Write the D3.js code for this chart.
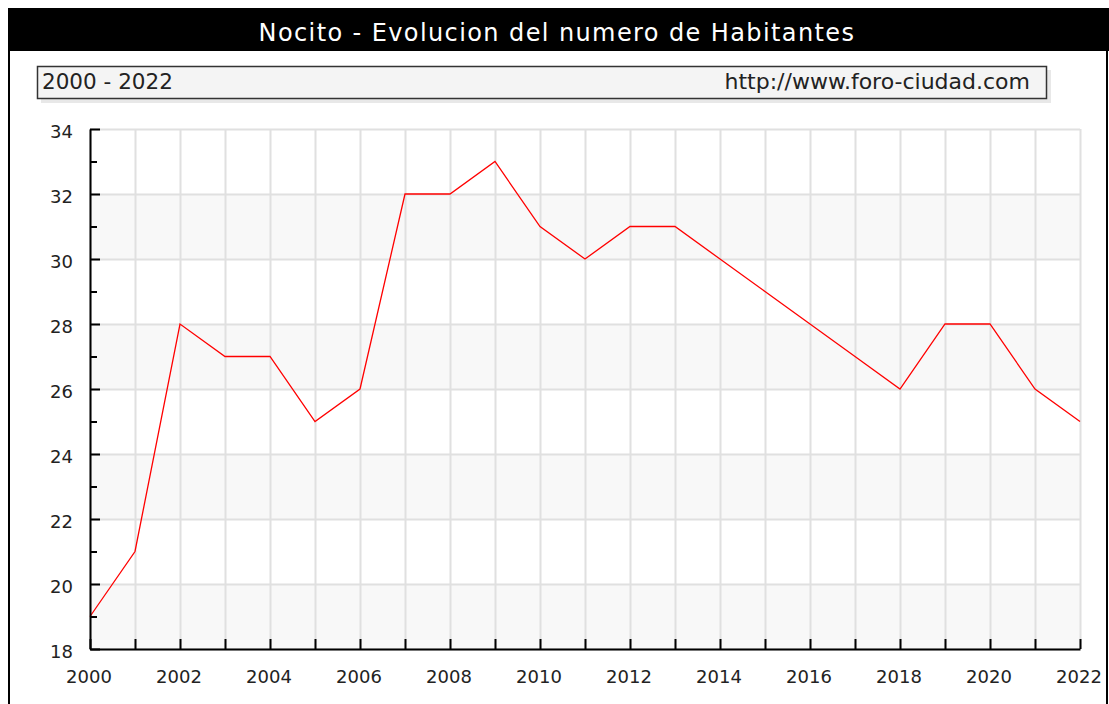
<!DOCTYPE html>
<html><head><meta charset="utf-8">
<script src="https://cdn.jsdelivr.net/npm/d3@7"></script>
<style>html,body{margin:0;padding:0;background:#fff;}svg{display:block;}</style>
</head><body>
<script>
const years = [2000,2001,2002,2003,2004,2005,2006,2007,2008,2009,2010,2011,2012,2013,2014,2015,2016,2017,2018,2019,2020,2021,2022];
const habitantes = [19,21,28,27,27,25,26,32,32,33,31,30,31,31,30,29,28,27,26,28,28,26,25];
const yTicks = [18,20,22,24,26,28,30,32,34];
const xLabelYears = [2000,2002,2004,2006,2008,2010,2012,2014,2016,2018,2020,2022];
const title = "Nocito - Evolucion del numero de Habitantes";
const rangeLabel = "2000 - 2022";
const siteLabel = "http://www.foro-ciudad.com";

const W = 1109, H = 704;
const svg = d3.select("body").append("svg").attr("width", W).attr("height", H);
const font = "DejaVu Sans, Verdana, sans-serif";

// frame
svg.append("rect").attr("x", 8).attr("y", 8).attr("width", W - 8).attr("height", 43).attr("fill", "#000");
svg.append("line").attr("x1", 9).attr("x2", 9).attr("y1", 50).attr("y2", H).attr("stroke", "#000").attr("stroke-width", 2);
svg.append("line").attr("x1", 1107).attr("x2", 1107).attr("y1", 50).attr("y2", H).attr("stroke", "#000").attr("stroke-width", 2);
svg.append("text").attr("x", 557).attr("y", 41).attr("text-anchor", "middle").attr("fill", "#fff")
  .attr("font-family", font).attr("font-size", 24).attr("letter-spacing", 1.4).text(title);

// subtitle box
svg.append("rect").attr("x", 41).attr("y", 70).attr("width", 1010).attr("height", 33).attr("fill", "#e8e8e8");
svg.append("rect").attr("x", 37.5).attr("y", 66.5).attr("width", 1009).attr("height", 32).attr("fill", "#f4f4f4").attr("stroke", "#333").attr("stroke-width", 1.5);
svg.append("text").attr("x", 42).attr("y", 89).attr("fill", "#222").attr("font-family", font).attr("font-size", 21.5).text(rangeLabel);
svg.append("text").attr("x", 1030).attr("y", 89).attr("text-anchor", "end").attr("fill", "#222").attr("font-family", font).attr("font-size", 22).text(siteLabel);

// scales
const x = d3.scaleLinear().domain([2000, 2022]).range([90, 1080]);
const y = d3.scaleLinear().domain([18, 34]).range([649, 129]);

// bands
const g = svg.append("g");
for (let i = 0; i < yTicks.length - 1; i++) {
  if (i % 2 === 0) {
    g.append("rect").attr("x", x(2000)).attr("width", x(2022) - x(2000))
      .attr("y", y(yTicks[i + 1])).attr("height", y(yTicks[i]) - y(yTicks[i + 1])).attr("fill", "#f8f8f8");
  }
}
// grid
g.append("g").attr("transform", `translate(0,${y(18)})`)
  .call(d3.axisBottom(x).tickValues(years).tickSize(-(y(18) - y(34))).tickFormat(""))
  .call(a => a.select(".domain").remove())
  .call(a => a.selectAll("line").attr("stroke", "#e0e0e0").attr("stroke-width", 2));
g.append("g").attr("transform", `translate(${x(2000)},0)`)
  .call(d3.axisLeft(y).tickValues(yTicks).tickSize(-(x(2022) - x(2000))).tickFormat(""))
  .call(a => a.select(".domain").remove())
  .call(a => a.selectAll("line").attr("stroke", "#e0e0e0").attr("stroke-width", 2));

// line
svg.append("path").datum(years.map((yr, i) => [yr, habitantes[i]]))
  .attr("fill", "none").attr("stroke", "#ff0000").attr("stroke-width", 1.3)
  .attr("d", d3.line().x(d => x(d[0])).y(d => y(d[1])));

// axes
const minorY = d3.range(19, 34, 2);
svg.append("g").attr("transform", `translate(${x(2000)},0)`)
  .call(d3.axisRight(y).tickValues(minorY).tickSize(7).tickFormat(""))
  .call(a => a.select(".domain").remove())
  .call(a => a.selectAll("line").attr("stroke", "#000").attr("stroke-width", 2));
const ya = svg.append("g").attr("transform", `translate(${x(2000)},0)`)
  .call(d3.axisRight(y).tickValues(yTicks).tickSize(10).tickSizeOuter(0).tickFormat(d3.format("d")));
ya.select(".domain").attr("stroke", "#000").attr("stroke-width", 2);
ya.selectAll("line").attr("stroke", "#000").attr("stroke-width", 2);
ya.selectAll("text").attr("x", -17).attr("text-anchor", "end").attr("dy", "0.45em")
  .attr("font-family", font).attr("font-size", 18).attr("fill", "#222");

const xa = svg.append("g").attr("transform", `translate(0,${y(18)})`)
  .call(d3.axisTop(x).tickValues(years).tickSize(10).tickSizeOuter(0).tickFormat(""));
xa.select(".domain").attr("stroke", "#000").attr("stroke-width", 2);
xa.selectAll("line").attr("stroke", "#000").attr("stroke-width", 2);
svg.append("g").selectAll("text").data(xLabelYears).join("text")
  .attr("x", d => x(d) - 1).attr("y", 683).attr("text-anchor", "middle")
  .attr("font-family", font).attr("font-size", 18).attr("fill", "#222").text(d => d);
</script>
</body></html>
